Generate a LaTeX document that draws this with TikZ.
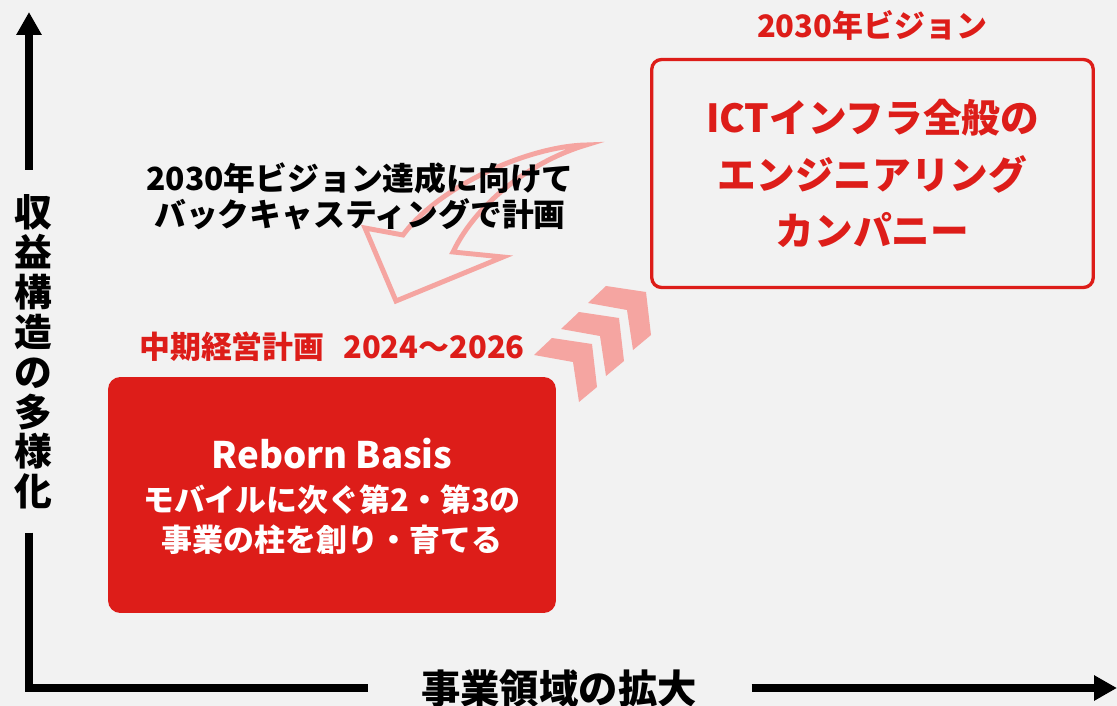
\documentclass[tikz,border=0pt]{standalone}
\usepackage{fontspec}
\setmainfont{Noto Sans CJK JP}
\usetikzlibrary{arrows.meta,positioning}
\definecolor{paper}{RGB}{242,242,242}
\definecolor{planred}{RGB}{221,29,25}
\definecolor{arrowpink}{RGB}{245,165,161}

\begin{document}
\begin{tikzpicture}[
        x=0.02cm, y=-0.02cm,
        every node/.style={inner sep=0pt},
        axis/.style={line width=4.5pt, line join=miter},
        axisarrow/.style={axis, -{Triangle[length=13pt, width=13.6pt]}},
        axislabel/.style={align=center, font=\bfseries\fontsize{21.5}{22.7}\selectfont},
        redlabel/.style={text=planred, font=\bfseries\fontsize{17.6}{21}\selectfont},
        visionbox/.style={draw=planred, line width=1.9pt, rounded corners=5.5pt, minimum width=8.83cm, minimum height=4.56cm, align=center, text=planred, font=\bfseries\fontsize{22}{32.3}\selectfont},
        planbox/.style={fill=planred, rounded corners=7pt, minimum width=8.96cm, minimum height=4.72cm},
        plantitle/.style={text=white, font=\bfseries\fontsize{20.8}{26}\selectfont},
        plantext/.style={text=white, align=center, font=\bfseries\fontsize{17.6}{22.7}\selectfont},
        backtext/.style={align=center, font=\bfseries\fontsize{18.1}{20.4}\selectfont},
        backarrow/.style={draw=arrowpink, line width=2.8pt, line join=miter},
        chevron/.style={fill=arrowpink}
    ]
    \useasboundingbox[fill=paper] (0,0) rectangle (1117,706);
    \clip (0,0) rectangle (1117,706);

    \draw[backarrow] (403,235) -- (365,228) -- (396,301) -- (503,257) -- (453,252)
        .. controls (478,200) and (535,160) .. (586,145)
        .. controls (530,146) and (440,185) .. (403,235) -- cycle;

    \foreach \i in {0,1,2}
        \fill[chevron, shift={(\i*27,-\i*26)}] (534,355) -- (552,338) -- (592,344) -- (597,387) -- (579,402) -- (573,362) -- cycle;

    \coordinate (origin) at (29,688);
    \coordinate (ytip) at (29,12);
    \coordinate (xtip) at (1117,688);

    \node[redlabel] (visionlabel) at (872,25) {2030年ビジョン};
    \node[visionbox] (vision) at (872.5,173.5) {ICTインフラ全般の\\エンジニアリング\\カンパニー};
    \node[backtext] (backcast) at (360,196) {2030年ビジョン達成に向けて\\バックキャスティングで計画};
    \node[redlabel] (planlabel) at (332,347) {中期経営計画\hspace{0.6em}2024～2026};
    \node[planbox] (plan) at (332,495) {};
    \node[plantitle] (plantitle) at (332,454) {Reborn Basis};
    \node[plantext] (plantext) at (332,520) {モバイルに次ぐ第2・第3の\\事業の柱を創り・育てる};
    \node[axislabel] (ylab) at (33,352) {収\\益\\構\\造\\の\\多\\様\\化};
    \node[axislabel, font=\bfseries\fontsize{22.4}{22.7}\selectfont] (xlab) at (559,689) {事業領域の拡大};

    \draw[axisarrow, shorten <=14pt] (ylab.north -| origin) -- (ytip);
    \draw[axis, shorten <=13pt, shorten >=30pt] (ylab.south -| origin) -- (origin) -- (xlab.west |- origin);
    \draw[axisarrow, shorten <=31pt] (xlab.east |- origin) -- (xtip);
\end{tikzpicture}
\end{document}
